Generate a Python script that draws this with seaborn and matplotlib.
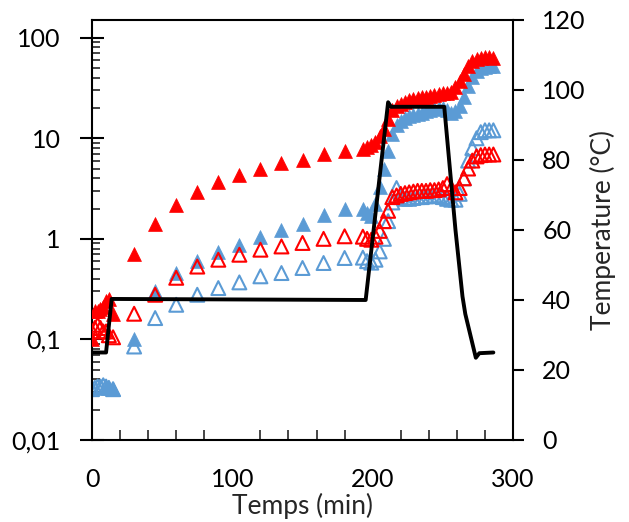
import numpy as np
import matplotlib
matplotlib.use("Agg")
import matplotlib.pyplot as plt
import matplotlib.ticker as mticker
import seaborn as sns

# --- Data ---
minutes = [0, 2, 4, 6, 8, 10, 12, 15,
           30, 45, 60, 75, 90, 105, 120, 135, 150, 165, 180,
           193, 196, 199, 202, 205, 208, 211, 214, 217, 220, 223, 226, 229, 232,
           235, 238, 241, 244, 247, 250, 253, 256, 259, 262, 265, 268, 271, 274,
           277, 280, 283, 286]

red_filled = [0.1, 0.19, 0.19, 0.2, 0.21, 0.24, 0.25, 0.18,
              0.71, 1.42, 2.16, 2.9, 3.65, 4.35, 5.0, 5.65, 6.14, 6.9, 7.4,
              7.9, 8.2, 8.6, 9.2, 10.5, 12.5, 15.5, 19, 21, 22, 23, 24, 24.5, 25,
              25.5, 26, 26.5, 27, 27.5, 28, 28.5, 29, 32, 37, 44, 52, 58, 62,
              63, 64, 64, 63]

red_open = [0.12, 0.13, 0.14, 0.13, 0.12, 0.12, 0.11, 0.105,
            0.18, 0.278, 0.41, 0.53, 0.62, 0.695, 0.78, 0.84, 0.91, 1.0, 1.06,
            1.05, 1.0, 0.98, 1.05, 1.2, 1.5, 1.9, 2.6, 2.7, 2.8, 2.85, 2.9, 2.95, 3.0,
            3.0, 3.0, 3.05, 3.05, 3.1, 3.2, 3.5, 3.2, 2.9, 3.2, 4.0, 5.0, 6.0, 6.6,
            6.8, 6.9, 6.9, 6.9]

blue_filled = [np.nan, np.nan, np.nan, np.nan, np.nan, 0.034, 0.033, 0.032,
               0.1, 0.30, 0.455, 0.6, 0.74, 0.875, 1.04, 1.23, 1.42, 1.74, 1.98,
               2.0, 1.8, 1.7, 2.2, 3.3, 5.0, 7.5, 11, 13.5, 15, 16, 16.5, 17, 17.5,
               18, 18.5, 19, 19.5, 20, 20, 19, 18, 18.5, 21, 26, 33, 41, 47,
               50, 51, 52, 52]

blue_open = [0.032, 0.033, 0.034, 0.034, 0.035, 0.034, 0.033, 0.032,
             0.085, 0.163, 0.221, 0.278, 0.324, 0.369, 0.424, 0.457, 0.513, 0.575, 0.645,
             0.65, 0.6, 0.58, 0.62, 0.75, 1.0, 1.5, 2.3, 3.2, 2.6, 2.5, 2.5, 2.55, 2.6,
             2.6, 2.65, 2.65, 2.7, 2.7, 2.6, 2.5, 2.45, 2.45, 2.8, 4.0, 6.0, 8.0, 10,
             11.5, 12, 12, 12]

temp_time = [0, 10, 14, 195, 211, 213, 251, 259, 264, 266, 269, 273.5, 276, 286]
temp_value = [25, 25, 40.3, 40, 96.5, 95.2, 95.2, 60, 41, 36, 31, 23.5, 24.8, 25]

RED = "#FF0000"
BLUE = "#5B9BD5"
FONT = ["Lato", "DejaVu Sans"]
MS = 100

sns.set_style("white")
plt.rcParams["font.family"] = FONT

fig = plt.figure(figsize=(6.29, 5.22), dpi=100)
ax = fig.add_axes([0.1463, 0.1571, 0.6693, 0.8046])

# --- Scatter series on the log axis ---
sns.scatterplot(x=minutes, y=blue_open, marker="^", s=MS, facecolor="none",
                edgecolor=BLUE, linewidth=1.5, ax=ax, zorder=2)
sns.scatterplot(x=minutes, y=blue_filled, marker="^", s=MS, color=BLUE,
                edgecolor=BLUE, linewidth=0.5, ax=ax, zorder=3)
sns.scatterplot(x=minutes, y=red_open, marker="^", s=MS, facecolor="none",
                edgecolor=RED, linewidth=1.5, ax=ax, zorder=4)
sns.scatterplot(x=minutes, y=red_filled, marker="^", s=MS, color=RED,
                edgecolor=RED, linewidth=0.5, ax=ax, zorder=5)

ax.set_yscale("log")
ax.set_ylim(0.01, 150)
ax.set_xlim(0, 300)
ax.set_xticks([0, 100, 200, 300])
ax.xaxis.set_minor_locator(mticker.MultipleLocator(20))
ax.set_yticks([0.01, 0.1, 1, 10, 100])
ax.set_yticklabels(["0,01", "0,1", "1", "10", "100"])
ax.yaxis.set_minor_locator(mticker.LogLocator(base=10, subs=np.arange(2, 10)))
ax.yaxis.set_minor_formatter(mticker.NullFormatter())

ax.tick_params(axis="y", which="major", direction="inout", length=17, width=1.5,
               labelsize=18, pad=14, colors="black")
ax.tick_params(axis="y", which="minor", direction="in", length=5.5, width=1.2)
ax.tick_params(axis="x", which="major", direction="inout", length=15, width=1.5,
               labelsize=18, pad=13, colors="black")
ax.tick_params(axis="x", which="minor", direction="in", length=7, width=1.2,
               bottom=True)
ax.set_xlabel("Temps (min)", fontsize=19, labelpad=1)
ax.set_ylabel("")

for side in ["left", "bottom", "top"]:
    ax.spines[side].set_color("black")
    ax.spines[side].set_linewidth(1.5)
ax.spines["right"].set_visible(False)

# --- Temperature on the secondary axis ---
ax2 = ax.twinx()
sns.lineplot(x=temp_time, y=temp_value, color="black", linewidth=2.8,
             estimator=None, sort=False, ax=ax2)
ax2.set_ylim(0, 120)
ax2.set_yticks(np.arange(0, 121, 20))
ax2.tick_params(axis="y", direction="out", length=8, width=1.5, labelsize=18,
                pad=13, colors="black")
ax2.set_ylabel("Temperature (°C)", fontsize=19, labelpad=3)
for side in ["left", "bottom", "top"]:
    ax2.spines[side].set_visible(False)
ax2.spines["right"].set_color("black")
ax2.spines["right"].set_linewidth(1.5)

fig.savefig("out.png", dpi=100)
